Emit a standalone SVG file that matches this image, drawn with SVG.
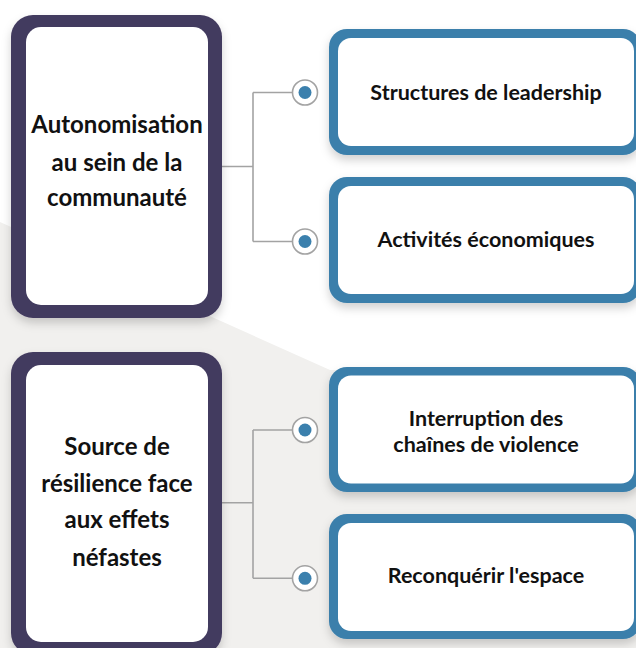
<svg xmlns="http://www.w3.org/2000/svg" width="636" height="648" viewBox="0 0 636 648">
  <defs>
    <filter id="sh" x="-20%" y="-20%" width="140%" height="140%">
      <feDropShadow dx="0" dy="5" stdDeviation="5" flood-color="#000" flood-opacity="0.18"/>
    </filter>
    <style>
      .main-o { fill: #433a5f; filter: url(#sh); }
      .sub-o { fill: #3b7fab; filter: url(#sh); }
      .in { fill: #ffffff; }
      .t { font-family: Lato, "Liberation Sans", sans-serif; font-weight: 700; fill: #111111; text-anchor: middle; }
      .tl { font-size: 24px; }
      .tr { font-size: 21.5px; }
      .ln { fill: none; stroke: #a3a3a3; stroke-width: 1.6; }
      .ring { fill: #ffffff; stroke: #a3a3a3; stroke-width: 1.6; }
      .dot { fill: #3b80ad; }
    </style>
  </defs>
  <rect x="0" y="0" width="636" height="648" fill="#ffffff"/>
  <polygon points="0,222 330,370 636,370 636,648 0,648" fill="#f1f0ee"/>

  <g id="connectors">
    <path class="ln" d="M222,166.5 H253 M253,92.5 V241.5 M253,92.5 H292 M253,241.5 H292"/>
    <path class="ln" d="M222,502.7 H253 M253,430 V578.3 M253,430 H292 M253,578.3 H292"/>
    <circle class="ring" cx="305" cy="92.5" r="12.5"/><circle class="dot" cx="305" cy="92.5" r="6.5"/>
    <circle class="ring" cx="305" cy="241.5" r="12.5"/><circle class="dot" cx="305" cy="241.5" r="6.5"/>
    <circle class="ring" cx="305" cy="430" r="12.5"/><circle class="dot" cx="305" cy="430" r="6.5"/>
    <circle class="ring" cx="305" cy="578.3" r="12.5"/><circle class="dot" cx="305" cy="578.3" r="6.5"/>
  </g>

  <g id="node-autonomisation">
    <rect class="main-o" x="11" y="15" width="211" height="303" rx="22"/>
    <rect class="in" x="26" y="27" width="182" height="278" rx="15"/>
    <text class="t tl" x="117" y="133.3">Autonomisation</text>
    <text class="t tl" x="117" y="170.7">au sein de la</text>
    <text class="t tl" x="117" y="206">communauté</text>
  </g>

  <g id="node-resilience">
    <rect class="main-o" x="11" y="352" width="211" height="303" rx="22"/>
    <rect class="in" x="26" y="365" width="182" height="277" rx="15"/>
    <text class="t tl" x="117" y="455">Source de</text>
    <text class="t tl" x="117" y="491.7">résilience face</text>
    <text class="t tl" x="117" y="528.3">aux effets</text>
    <text class="t tl" x="117" y="565.7">néfastes</text>
  </g>

  <g id="node-leadership">
    <rect class="sub-o" x="329" y="29" width="312" height="126" rx="18"/>
    <rect class="in" x="338" y="38" width="296" height="108" rx="13"/>
    <text class="t tr" x="486" y="100">Structures de leadership</text>
  </g>

  <g id="node-economiques">
    <rect class="sub-o" x="329" y="177" width="312" height="126" rx="18"/>
    <rect class="in" x="338" y="186" width="296" height="108" rx="13"/>
    <text class="t tr" x="486" y="246.7">Activités économiques</text>
  </g>

  <g id="node-interruption">
    <rect class="sub-o" x="329" y="367" width="312" height="125" rx="18"/>
    <rect class="in" x="338" y="375.5" width="296" height="108" rx="13"/>
    <text class="t tr" x="486" y="426">Interruption des</text>
    <text class="t tr" x="486" y="451.7">chaînes de violence</text>
  </g>

  <g id="node-espace">
    <rect class="sub-o" x="329" y="514" width="312" height="125" rx="18"/>
    <rect class="in" x="338" y="523" width="296" height="108" rx="13"/>
    <text class="t tr" x="486" y="583.3">Reconquérir l'espace</text>
  </g>
</svg>
